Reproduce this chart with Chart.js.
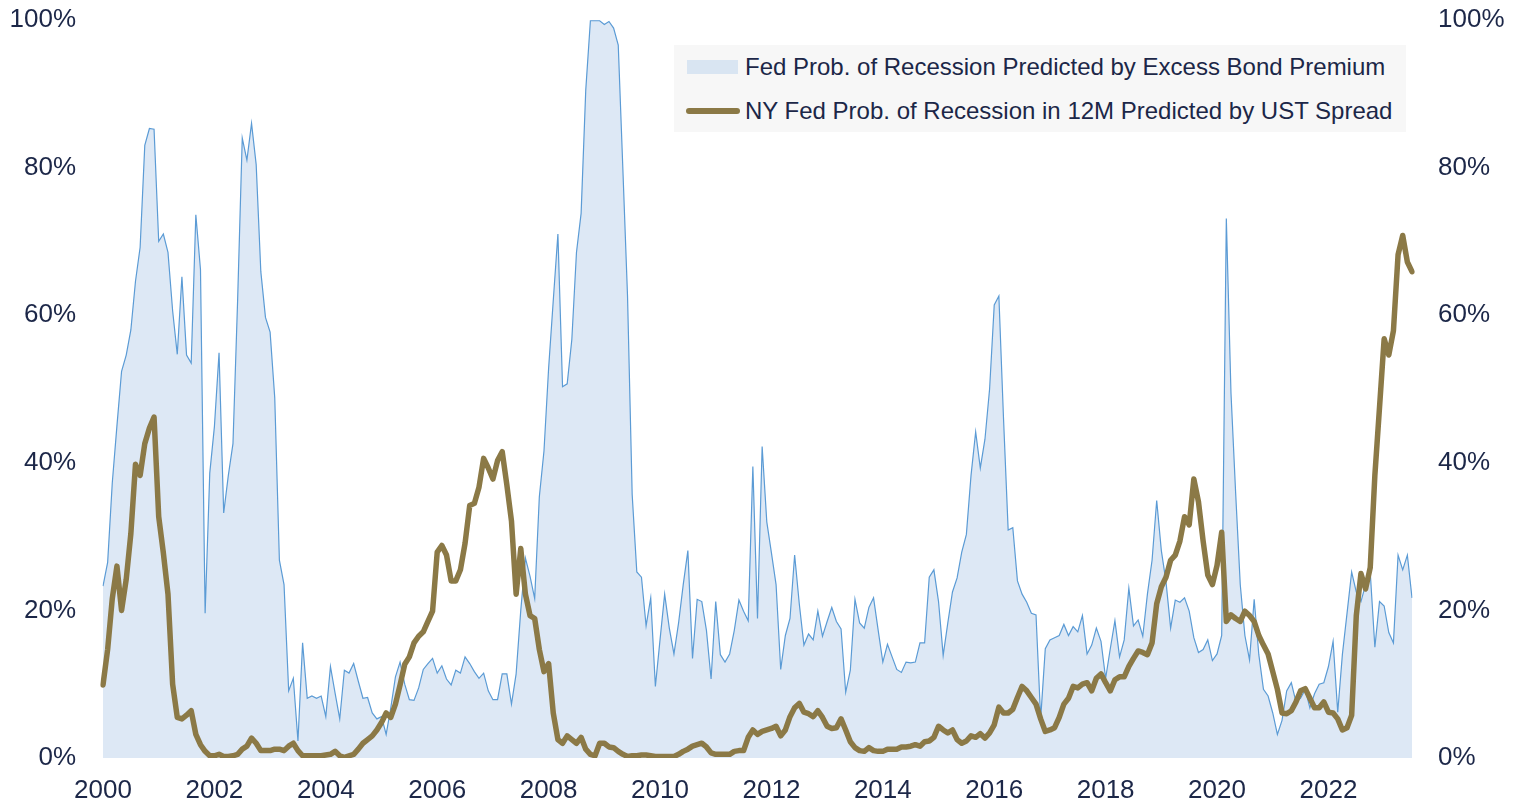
<!DOCTYPE html>
<html>
<head>
<meta charset="utf-8">
<script src="https://cdn.jsdelivr.net/npm/chart.js@4.4.0/dist/chart.umd.min.js"></script>
<style>
  html, body { margin: 0; padding: 0; background: #fff; }
  #wrap { position: relative; width: 1514px; height: 805px; }
  #legend {
    position: absolute; left: 674px; top: 45px; width: 732px; height: 87px;
    background: #f7f7f7; color: #1c2748;
    font-family: Arial, "Liberation Sans", sans-serif; font-size: 24px;
  }
  .item { position: absolute; display: flex; align-items: center; white-space: nowrap; line-height: 28px; }
  .swatch-area { width: 51px; height: 14px; background: #d9e5f2; margin-right: 7px; }
  .swatch-line { width: 54px; height: 6px; border-radius: 3px; background: #8b7946; margin-right: 5px; }
</style>
</head>
<body>
<div id="wrap">
  <canvas id="chart" width="1514" height="805"></canvas>
  <div id="legend"></div>
</div>
<script>
document.addEventListener("DOMContentLoaded", function() {
  const startYear = 2000;
  const monthCount = 283; // Jan 2000 .. Jul 2023

  const ebpLabel = "Fed Prob. of Recession Predicted by Excess Bond Premium";
  const ustLabel = "NY Fed Prob. of Recession in 12M Predicted by UST Spread";

  // monthly, in percent
  const ebpProb = [
    23.3, 26.5, 37.3, 45, 52.4, 54.6, 58, 64.6, 69.2, 83, 85.3, 85.2,
    70, 71, 68.5, 60.6, 54.7, 65.2, 54.6, 53.5, 73.6, 66.2, 19.6, 38.6,
    44.9, 54.9, 33.2, 38.3, 42.6, 62, 84, 81, 86, 80.4, 65.9, 59.7,
    57.7, 48.8, 26.8, 23.5, 9.1, 10.8, 2.3, 15.6, 8.1, 8.4, 8.1, 8.4,
    5.6, 12.4, 8.8, 5.3, 11.9, 11.5, 12.8, 10.4, 8.1, 8.2, 6.1, 5.3,
    5.6, 3.2, 6.8, 11, 13, 10, 7.9, 7.8, 9.5, 12, 12.8, 13.5,
    11.5, 12.5, 10.7, 9.9, 11.9, 11.5, 13.7, 12.8, 11.7, 10.8, 11.5, 9.1,
    7.9, 7.9, 11.4, 11.4, 7.3, 11.4, 20, 27.1, 24.6, 21.6, 35.4, 41.6,
    52.8, 62, 71, 50.3, 50.7, 56.7, 68.5, 73.8, 90.5, 99.9, 99.9, 99.9,
    99.4, 99.8, 98.9, 96.6, 79.7, 62.6, 35.7, 25.2, 24.5, 17.9, 21.7, 9.7,
    16, 22.2, 17.6, 14.1, 18.3, 23.5, 28.1, 13.5, 21.5, 21.2, 17.3, 10.7,
    21.2, 14, 13, 14.1, 17.3, 21.4, 19.9, 18.6, 39.5, 18.9, 42.2, 32,
    27.8, 23.5, 12, 16.6, 18.9, 27.5, 20.9, 15.3, 16.8, 16, 19.9, 16.5,
    18.5, 20.4, 18.5, 17.5, 8.9, 11.9, 21.5, 18.3, 17.6, 20.4, 21.7, 17.3,
    13, 15.4, 13.7, 12, 11.6, 13, 12.9, 13, 15.6, 15.6, 24.5, 25.5,
    21.2, 13.9, 18.3, 22.5, 24.4, 27.9, 30.3, 38.3, 44.2, 39.3, 43.2, 50,
    61.4, 62.6, 46, 30.9, 31.2, 24, 22.2, 21.1, 19.6, 19.4, 5.3, 14.8,
    16, 16.3, 16.6, 18.1, 16.6, 17.8, 17.1, 19.3, 14.1, 15.3, 17.6, 15.8,
    10.8, 14.8, 18.6, 13.7, 16, 23, 17.9, 18.7, 16.5, 22.2, 26.8, 34.9,
    28.1, 23.9, 17.6, 21.4, 21.1, 21.7, 19.9, 16.3, 14.3, 14.7, 16, 13.2,
    14.1, 16.6, 73.1, 49.5, 36, 23.5, 16.6, 13.3, 21.5, 14, 9.3, 8.4,
    6.1, 3.2, 5.1, 9.1, 10.2, 7.6, 8.1, 9.3, 6.8, 8.7, 10, 10.2,
    12.4, 15.8, 6.2, 14, 19.6, 25.2, 22.5, 21.2, 23.5, 25.2, 15, 21.2,
    20.6, 17, 15.6, 27.5, 25.5, 27.5, 21.7
  ];

  const ustProb = [
    9.9, 14.7, 21.6, 26, 20, 24.2, 30.4, 39.8, 38.3, 42.6, 44.7, 46.2,
    32.7, 27.8, 22.2, 10, 5.5, 5.3, 5.8, 6.4, 3.2, 1.8, 0.9, 0.3,
    0.3, 0.5, 0.2, 0.2, 0.3, 0.5, 1.2, 1.6, 2.7, 2, 1, 1,
    1, 1.2, 1.2, 1, 1.6, 2, 1, 0.3, 0.3, 0.3, 0.3, 0.3,
    0.4, 0.5, 0.9, 0.3, 0.1, 0.3, 0.5, 1.2, 2, 2.5, 3, 3.8,
    4.8, 6.1, 5.5, 7.3, 9.9, 12.7, 13.7, 15.6, 16.5, 17.1, 18.5, 19.9,
    27.9, 28.8, 27.5, 24, 24, 25.5, 29.1, 34.2, 34.5, 36.7, 40.6, 39.3,
    37.8, 40.3, 41.5, 37, 32.1, 22.2, 28.4, 22.2, 19.3, 18.9, 14.7, 11.7,
    12.8, 6.1, 2.5, 2, 3, 2.5, 2, 2.8, 1.2, 0.5, 0.3, 2,
    2, 1.5, 1.4, 0.9, 0.5, 0.2, 0.3, 0.3, 0.4, 0.4, 0.3, 0.2,
    0.2, 0.2, 0.2, 0.2, 0.5, 0.9, 1.2, 1.6, 1.8, 2, 1.5, 0.7,
    0.5, 0.5, 0.5, 0.5, 0.9, 1, 1, 2.8, 3.8, 3.2, 3.6, 3.8,
    4, 4.3, 3, 3.8, 5.6, 6.8, 7.4, 6.2, 6, 5.6, 6.4, 5.5,
    4.3, 4, 4.1, 5.3, 3.8, 2.2, 1.4, 1, 0.9, 1.4, 1, 0.9,
    0.9, 1.2, 1.2, 1.2, 1.5, 1.5, 1.6, 1.8, 1.6, 2.2, 2.3, 2.8,
    4.3, 3.8, 3.4, 3.8, 2.5, 2, 2.3, 3, 2.8, 3.3, 2.7, 3.4,
    4.5, 6.9, 6.1, 6.1, 6.6, 8.2, 9.7, 9.1, 8.2, 7.3, 5.3, 3.6,
    3.8, 4.1, 5.5, 7.3, 8.1, 9.7, 9.5, 10, 10.2, 9.1, 10.8, 11.4,
    10.2, 9.1, 10.6, 11, 11, 12.4, 13.5, 14.5, 14.3, 14, 15.6, 20.9,
    23.2, 24.5, 26.8, 27.5, 29.4, 32.7, 31.6, 37.8, 34.7, 29.4, 24.8, 23.5,
    26.1, 30.6, 18.5, 19.4, 18.9, 18.5, 19.9, 19.3, 18.5, 16.6, 15.3, 14.1,
    11.7, 9.3, 6.1, 6, 6.4, 7.6, 9.1, 9.4, 8.1, 6.8, 6.8, 7.6,
    6.2, 6.1, 5.3, 3.8, 4.1, 5.8, 19.3, 25, 22.9, 25.8, 38.3, 47.5,
    56.8, 54.6, 57.9, 68.2, 70.8, 67.2, 65.9
  ];

  const yTicks = [0, 20, 40, 60, 80, 100];

  // month labels "YYYY-MM"
  const months = [];
  for (let i = 0; i < monthCount; i++) {
    const y = startYear + Math.floor(i / 12);
    const m = (i % 12) + 1;
    months.push(y + "-" + (m < 10 ? "0" + m : m));
  }

  const fontFamily = 'Arial, "Liberation Sans", sans-serif';
  const textColor = "#1c2748";

  // legend
  const legend = document.getElementById("legend");
  legend.innerHTML =
    '<div class="item" style="left:13px;top:8px"><span class="swatch-area"></span><span>' + ebpLabel + '</span></div>' +
    '<div class="item" style="left:12px;top:52px"><span class="swatch-line"></span><span>' + ustLabel + '</span></div>';

  const yAxis = function(position, width, pad) {
    return {
      position: position,
      min: 0,
      max: 100,
      afterBuildTicks: function(scale) {
        scale.ticks = yTicks.map(function(v) { return { value: v }; });
      },
      ticks: {
        padding: pad,
        color: textColor,
        font: { family: fontFamily, size: 26 },
        callback: function(v) { return v + "%"; }
      },
      grid: { display: false, drawTicks: false },
      border: { display: false },
      afterFit: function(scale) {
        scale.width = width;
        // let the layout padding decide top/bottom, not the label heights
        scale.paddingTop = 0;
        scale.paddingBottom = 0;
      }
    };
  };

  const ctx = document.getElementById("chart");
  new Chart(ctx, {
    type: "line",
    data: {
      labels: months,
      datasets: [
        {
          label: ustLabel,
          data: ustProb,
          borderColor: "#8b7946",
          borderWidth: 5.5,
          borderCapStyle: "round",
          borderJoinStyle: "round",
          pointRadius: 0,
          fill: false,
          tension: 0,
          order: 0
        },
        {
          label: ebpLabel,
          data: ebpProb,
          borderColor: "#5b9bd5",
          borderWidth: 1.2,
          backgroundColor: "#dde8f5",
          pointRadius: 0,
          fill: "origin",
          tension: 0,
          order: 1
        }
      ]
    },
    options: {
      responsive: false,
      animation: false,
      layout: { padding: { top: 20, left: 0, right: 0, bottom: 0 } },
      plugins: {
        legend: { display: false },
        tooltip: { enabled: false }
      },
      scales: {
        x: {
          grid: { display: false, drawTicks: false },
          border: { display: false },
          ticks: {
            autoSkip: false,
            maxRotation: 0,
            padding: 17,
            color: textColor,
            font: { family: fontFamily, size: 26 },
            callback: function(value) {
              const lab = this.getLabelForValue(value);
              const yr = parseInt(lab.slice(0, 4), 10);
              return (lab.slice(5) === "01" && yr % 2 === 0) ? String(yr) : "";
            }
          },
          afterFit: function(scale) {
            scale.height = 47;
            scale.paddingLeft = 0;
            scale.paddingRight = 0;
          }
        },
        y: yAxis("left", 103, 27),
        y2: yAxis("right", 102, 26)
      }
    }
  });
});
</script>
</body>
</html>
